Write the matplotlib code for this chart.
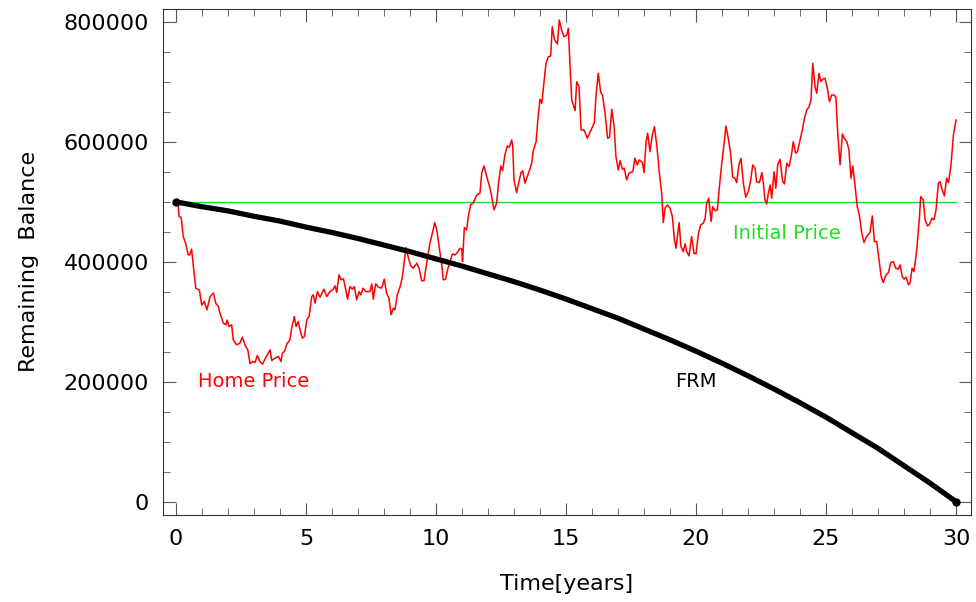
import matplotlib
matplotlib.use("Agg")
import matplotlib.pyplot as plt
from matplotlib.ticker import MultipleLocator

# Home price path (years, value)
home_t = [0.0, 0.09, 0.12, 0.2, 0.28, 0.37, 0.47, 0.53, 0.6, 0.67, 0.76, 0.9, 0.99, 1.09,
          1.19, 1.31, 1.44, 1.53, 1.63, 1.69, 1.82, 1.92, 1.97, 2.04, 2.14, 2.2, 2.33,
          2.46, 2.55, 2.65, 2.76, 2.85, 2.94, 3.04, 3.13, 3.23, 3.33, 3.42, 3.62, 3.68,
          3.81, 3.94, 4.04, 4.09, 4.17, 4.26, 4.38, 4.45, 4.55, 4.62, 4.7, 4.77, 4.86,
          4.94, 5.03, 5.12, 5.22, 5.28, 5.35, 5.44, 5.54, 5.69, 5.8, 5.92, 6.05, 6.12,
          6.18, 6.27, 6.35, 6.44, 6.53, 6.6, 6.69, 6.78, 6.86, 6.95, 7.04, 7.1, 7.2, 7.3,
          7.4, 7.46, 7.53, 7.59, 7.68, 7.78, 7.91, 8.01, 8.1, 8.19, 8.27, 8.36, 8.42,
          8.51, 8.62, 8.7, 8.77, 8.85, 8.94, 9.03, 9.13, 9.26, 9.35, 9.45, 9.54, 9.64,
          9.77, 9.86, 9.95, 10.03, 10.12, 10.22, 10.28, 10.37, 10.45, 10.54, 10.63,
          10.73, 10.82, 10.92, 10.99, 11.02, 11.09, 11.18, 11.24, 11.33, 11.44, 11.57,
          11.69, 11.76, 11.85, 11.95, 12.08, 12.14, 12.23, 12.33, 12.4, 12.49, 12.56,
          12.65, 12.74, 12.82, 12.91, 12.95, 13.0, 13.1, 13.19, 13.27, 13.33, 13.42,
          13.51, 13.59, 13.68, 13.74, 13.85, 13.91, 14.0, 14.07, 14.15, 14.23, 14.32,
          14.41, 14.47, 14.55, 14.67, 14.74, 14.83, 14.92, 15.03, 15.09, 15.15, 15.22,
          15.35, 15.41, 15.5, 15.58, 15.69, 15.82, 15.99, 16.09, 16.15, 16.24, 16.33,
          16.41, 16.5, 16.6, 16.67, 16.76, 16.85, 16.92, 17.01, 17.08, 17.17, 17.24,
          17.33, 17.42, 17.57, 17.65, 17.74, 17.82, 17.94, 18.0, 18.08, 18.14, 18.23,
          18.32, 18.4, 18.49, 18.59, 18.68, 18.74, 18.81, 18.9, 19.0, 19.09, 19.17,
          19.23, 19.35, 19.42, 19.51, 19.58, 19.64, 19.73, 19.83, 19.92, 20.0, 20.09,
          20.18, 20.28, 20.35, 20.41, 20.49, 20.58, 20.64, 20.73, 20.82, 20.9, 20.99,
          21.08, 21.15, 21.24, 21.33, 21.41, 21.5, 21.56, 21.65, 21.73, 21.82, 21.91,
          22.01, 22.1, 22.18, 22.27, 22.33, 22.44, 22.53, 22.59, 22.65, 22.72, 22.78,
          22.85, 22.91, 23.0, 23.07, 23.14, 23.23, 23.33, 23.4, 23.49, 23.58, 23.68,
          23.74, 23.83, 23.9, 24.0, 24.09, 24.17, 24.26, 24.35, 24.42, 24.49, 24.58,
          24.64, 24.73, 24.8, 24.87, 24.96, 25.05, 25.13, 25.22, 25.31, 25.38, 25.45,
          25.54, 25.63, 25.7, 25.8, 25.88, 25.96, 26.03, 26.12, 26.2, 26.28, 26.37,
          26.46, 26.56, 26.69, 26.78, 26.86, 26.95, 27.04, 27.12, 27.2, 27.31, 27.4,
          27.49, 27.59, 27.68, 27.78, 27.85, 27.93, 28.0, 28.08, 28.17, 28.23, 28.31,
          28.38, 28.49, 28.59, 28.64, 28.74, 28.81, 28.9, 28.97, 29.07, 29.15, 29.23,
          29.32, 29.38, 29.47, 29.55, 29.64, 29.71, 29.8, 29.9, 30.0]
home_v = [500000, 492000, 475500, 474000, 442000, 431000, 411700, 411700, 421000, 392000,
          356000, 353000, 328000, 334000, 320000, 342000, 348000, 331000, 325500, 314500,
          298000, 295000, 303000, 292000, 295000, 270000, 261700, 264500, 274500, 261700,
          253300, 230000, 233800, 232200, 243800, 233800, 229500, 237800, 253300, 235500,
          239500, 242200, 233800, 247800, 250500, 262800, 270000, 289500, 308800, 292200,
          300500, 286700, 272800, 275500, 303300, 308800, 342200, 345000, 331200, 350500,
          341000, 354500, 342200, 350500, 354500, 360000, 349000, 378300, 370000, 371700,
          353300, 337800, 358800, 354500, 358800, 336700, 350500, 345000, 356200, 350500,
          350500, 350500, 363300, 337800, 363300, 357800, 356200, 371200, 347800, 339500,
          311700, 322800, 320000, 345000, 358800, 372800, 397800, 423800, 406200, 393300,
          389500, 397800, 389500, 368300, 368800, 397800, 432200, 447800, 465500, 453300,
          425500, 395000, 370000, 371200, 387800, 400500, 413300, 411700, 415500, 422800,
          421200, 400500, 457200, 453300, 475500, 495000, 498800, 511700, 514500, 548800,
          560000, 542200, 522800, 508800, 486700, 497800, 528300, 560000, 552200, 578300,
          593300, 591200, 603300, 593300, 536700, 515500, 533800, 548800, 552200, 531200,
          542200, 552200, 564500, 585500, 600500, 633800, 671200, 664500, 698800, 731200,
          742200, 743300, 792200, 771200, 763300, 803300, 786700, 775500, 778300, 789500,
          731200, 670000, 652200, 700500, 692200, 620000, 620000, 606200, 622800, 632200,
          675500, 714500, 683800, 676700, 647800, 606200, 607800, 654500, 625500, 575500,
          553300, 568800, 554500, 556200, 536700, 547800, 550500, 572800, 561700, 570000,
          565500, 548800, 600500, 614500, 583800, 611700, 625500, 595000, 547800, 514500,
          465500, 489500, 495000, 489500, 475500, 436700, 422800, 465500, 425500, 417200,
          430000, 417200, 410000, 442200, 414500, 413300, 446700, 461700, 464500, 472800,
          497800, 506200, 467200, 492200, 485500, 486700, 525500, 564500, 597800, 626700,
          606200, 581200, 541200, 539500, 532200, 561700, 572800, 531200, 507800, 517200,
          535500, 561700, 556200, 533800, 532200, 548800, 531200, 503300, 496700, 514500,
          528300, 506200, 550500, 522800, 561700, 571200, 533800, 530000, 564500, 558800,
          581200, 600500, 581200, 583800, 603300, 620000, 639500, 653300, 658800, 670000,
          731200, 691200, 681200, 714500, 700500, 704500, 706200, 689500, 667200, 678300,
          678300, 674500, 614500, 561700, 613300, 606200, 600500, 586700, 539500, 560000,
          525500, 492200, 478300, 448800, 432200, 442200, 448800, 476700, 433800, 433800,
          403300, 375500, 365500, 378300, 382200, 398800, 400500, 389500, 387800, 395000,
          375500, 371200, 374500, 361700, 364500, 389500, 383800, 420000, 472800, 508800,
          503300, 470000, 460000, 461700, 472800, 470000, 486700, 531200, 533800, 520000,
          510000, 539500, 532200, 558800, 611700, 636700]

# FRM remaining balance at each year
frm_t = list(range(0, 31))
frm_v = [500000, 492000, 485000, 476000, 468000, 458000, 449000, 439000, 428000, 417000,
         405000, 393000, 380000, 367000, 353000, 338000, 322000, 306000, 288000, 270000,
         251000, 231000, 210000, 188000, 165000, 141000, 115000, 89000, 60000, 31000, 0]

initial_price = 500000

plt.rcParams['font.family'] = ['DejaVu Sans']

fig = plt.figure(figsize=(9.76, 6.02), dpi=100)
ax = fig.add_axes([0.167, 0.145, 0.828, 0.84])

ax.plot([frm_t[0], frm_t[-1]], [initial_price, initial_price], color='#22dd22', lw=1.0)
ax.plot(home_t, home_v, color='red', lw=1.1)
ax.plot(frm_t, frm_v, color='black', lw=3.8, solid_capstyle='round')
ax.plot([frm_t[0], frm_t[-1]], [frm_v[0], frm_v[-1]], 'o', color='black', ms=5)

ax.text(3.0, 200000, 'Home Price', color='red', fontsize=14, ha='center', va='center')
ax.text(20.0, 200000, 'FRM', color='black', fontsize=14, ha='center', va='center')
ax.text(23.5, 448000, 'Initial Price', color='#22dd22', fontsize=14, ha='center', va='center')

ax.set_xlim(-0.5, 30.58)
ax.set_ylim(-21667, 821667)
ax.xaxis.set_major_locator(MultipleLocator(5))
ax.xaxis.set_minor_locator(MultipleLocator(1))
ax.yaxis.set_major_locator(MultipleLocator(200000))
ax.yaxis.set_minor_locator(MultipleLocator(50000))
ax.tick_params(which='both', direction='in', top=True, right=True, color='#555555')
ax.tick_params(which='major', length=9, labelsize=16, pad=10)
ax.tick_params(which='minor', length=5)
for s in ax.spines.values():
    s.set_color('#333333')

ax.set_xlabel('Time[years]', fontsize=16, labelpad=18)
ax.set_ylabel('Remaining  Balance', fontsize=16, labelpad=18)

fig.savefig('out.png', dpi=100)
